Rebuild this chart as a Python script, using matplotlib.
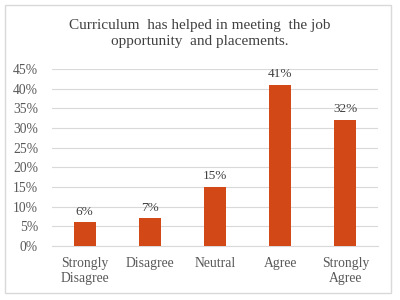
import matplotlib.pyplot as plt
from matplotlib.patches import Rectangle

categories = ["Strongly\nDisagree", "Disagree", "Neutral", "Agree", "Strongly\nAgree"]
values = [0.06, 0.07, 0.15, 0.41, 0.32]
labels = ["6%", "7%", "15%", "41%", "32%"]
yticks = [0, 0.05, 0.10, 0.15, 0.20, 0.25, 0.30, 0.35, 0.40, 0.45]

plt.rcParams['font.family'] = ['Liberation Serif', 'DejaVu Serif']

fig = plt.figure(figsize=(4, 3), dpi=100)
ax = fig.add_axes([0.13, 0.18, 0.815, 0.59])

x = range(len(categories))
bars = ax.bar(x, values, width=0.34, color="#D34817", zorder=3)
for b, lab in zip(bars, labels):
    ax.text(b.get_x() + b.get_width() / 2, b.get_height() + 0.012, lab,
            ha="center", va="bottom", fontsize=9.5, color="#404040")

ax.set_ylim(0, 0.45)
ax.set_xlim(-0.5, len(categories) - 0.5)
ax.set_yticks(yticks)
ax.set_yticklabels(["{:.0f}%".format(v * 100) for v in yticks])
ax.set_xticks(list(x))
ax.set_xticklabels(categories)
ax.tick_params(axis="both", length=0, labelsize=9.8, colors="#595959")
ax.tick_params(axis="y", pad=10)
ax.tick_params(axis="x", pad=8)
ax.grid(axis="y", color="#D9D9D9", linewidth=0.8, zorder=0)
for s in ["top", "right", "left"]:
    ax.spines[s].set_visible(False)
ax.spines["bottom"].set_color("#D9D9D9")

fig.text(0.5, 0.887, "Curriculum  has helped in meeting  the job\nopportunity  and placements.",
         ha="center", va="center", fontsize=11, color="#404040", linespacing=1.3)

fig.patches.append(Rectangle((0.0125, 0.0233), 0.965, 0.96, transform=fig.transFigure,
                             fill=False, edgecolor="#D9D9D9", linewidth=1))

fig.savefig("out.png", dpi=100)
